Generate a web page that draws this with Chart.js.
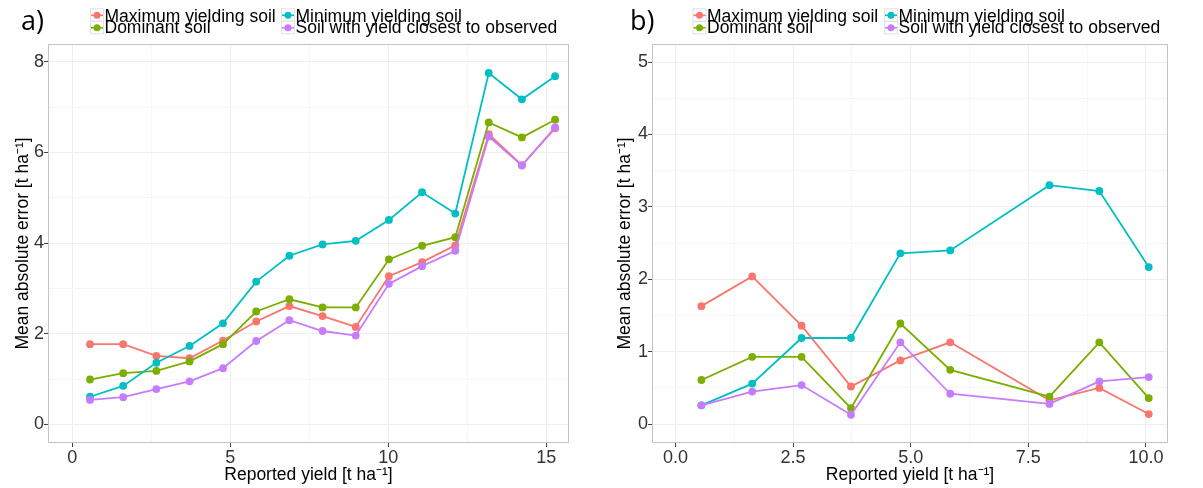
<!DOCTYPE html>
<html>
<head>
<meta charset="utf-8">
<script src="https://cdn.jsdelivr.net/npm/chart.js@4.4.1/dist/chart.umd.min.js"></script>
<style>
  body { margin: 0; background: #fff; width: 1203px; height: 488px; overflow: hidden; position: relative; }
  canvas { position: absolute; top: 0; }
  #chartA { left: 0; }
  #chartB { left: 600px; }
</style>
</head>
<body>
<canvas id="chartA" width="600" height="488"></canvas>
<canvas id="chartB" width="603" height="488"></canvas>
<script>
// series names, in legend order (column by column)
var seriesNames = ["Maximum yielding soil", "Dominant soil", "Minimum yielding soil", "Soil with yield closest to observed"];
var colours = ["#F8766D", "#7CAE00", "#00BFC4", "#C77CFF"];

// panel a) reported yield (x) and mean absolute error per soil choice
var yieldA = [0.56, 1.61, 2.66, 3.71, 4.77, 5.82, 6.87, 7.92, 8.97, 10.02, 11.07, 12.12, 13.18, 14.23, 15.28];
var maxSoilA = [1.77, 1.77, 1.51, 1.46, 1.85, 2.27, 2.61, 2.39, 2.15, 3.27, 3.58, 3.95, 6.40, 5.72, 6.53];
var domSoilA = [0.99, 1.13, 1.18, 1.39, 1.77, 2.49, 2.76, 2.58, 2.58, 3.64, 3.94, 4.13, 6.66, 6.33, 6.72];
var minSoilA = [0.61, 0.85, 1.36, 1.73, 2.23, 3.15, 3.72, 3.97, 4.05, 4.51, 5.12, 4.65, 7.75, 7.17, 7.68];
var closeSoilA = [0.54, 0.60, 0.78, 0.95, 1.24, 1.84, 2.30, 2.06, 1.96, 3.10, 3.49, 3.83, 6.35, 5.71, 6.55];

// panel b)
var yieldB = [0.55, 1.63, 2.68, 3.73, 4.78, 5.84, 7.95, 9.01, 10.06];
var maxSoilB = [1.63, 2.04, 1.36, 0.52, 0.88, 1.13, 0.33, 0.50, 0.14];
var domSoilB = [0.61, 0.93, 0.93, 0.22, 1.39, 0.75, 0.38, 1.13, 0.36];
var minSoilB = [0.26, 0.56, 1.19, 1.19, 2.36, 2.40, 3.30, 3.22, 2.17];
var closeSoilB = [0.26, 0.45, 0.54, 0.13, 1.13, 0.42, 0.28, 0.59, 0.65];

// grid lines (major + minor) and the labelled ones
var xTicksA = [0, 2.5, 5, 7.5, 10, 12.5, 15];
var xLabelsA = [0, 5, 10, 15];
var yTicksA = [0, 1, 2, 3, 4, 5, 6, 7, 8];
var yLabelsA = [0, 2, 4, 6, 8];
var xTicksB = [0, 1.25, 2.5, 3.75, 5, 6.25, 7.5, 8.75, 10];
var xLabelsB = [0, 2.5, 5, 7.5, 10];
var yTicksB = [0, 0.5, 1, 1.5, 2, 2.5, 3, 3.5, 4, 4.5, 5];
var yLabelsB = [0, 1, 2, 3, 4, 5];

Chart.defaults.font.family = "'Liberation Sans', Arial, sans-serif";
Chart.defaults.color = "#333";

function points(xs, ys) {
  return ys.map((y, i) => ({ x: xs[i], y: y }));
}

// panel border, "a)"/"b)" tag and the two-column legend
const panelDecor = {
  id: "panelDecor",
  afterDraw(chart, args, o) {
    const ctx = chart.ctx;
    const a = chart.chartArea;
    ctx.save();
    ctx.strokeStyle = "#c4c4c4";
    ctx.lineWidth = 1;
    ctx.strokeRect(a.left + 0.5, a.top + 0.5, a.right - a.left - 1, a.bottom - a.top - 1);

    ctx.fillStyle = "#000";
    ctx.textBaseline = "alphabetic";
    ctx.font = "27px 'Open Sans', sans-serif";
    ctx.fillText(o.tag, o.tagX, 30);

    ctx.font = "17.5px 'Liberation Sans', Arial, sans-serif";
    seriesNames.forEach((name, i) => {
      const col = Math.floor(i / 2), row = i % 2;
      const kx = o.keyX[col];
      const ky = row === 0 ? 15.3 : 27.8;
      ctx.strokeStyle = "#e2e2e2";
      ctx.lineWidth = 1;
      ctx.strokeRect(kx - 6.5, ky - 6.5, 13, 12.5);
      ctx.strokeStyle = colours[i];
      ctx.lineWidth = 1.6;
      ctx.beginPath();
      ctx.moveTo(kx - 6, ky);
      ctx.lineTo(kx + 6, ky);
      ctx.stroke();
      ctx.fillStyle = colours[i];
      ctx.beginPath();
      ctx.arc(kx, ky, 3.5, 0, Math.PI * 2);
      ctx.fill();
      ctx.fillStyle = "#000";
      ctx.fillText(name, kx + 7.5, row === 0 ? 21.5 : 33.2);
    });
    ctx.restore();
  }
};

function makePanel(id, cfg) {
  const sets = [cfg.max, cfg.dom, cfg.min, cfg.close].map((ys, i) => ({
    label: seriesNames[i],
    data: points(cfg.xs, ys),
    borderColor: colours[i],
    backgroundColor: colours[i],
    borderWidth: 1.8,
    pointRadius: 3.9,
    pointBorderWidth: 0,
    pointBackgroundColor: colours[i],
    tension: 0,
    order: 4 - i
  }));

  function gridOpts(labels) {
    return {
      color: (c) => labels.includes(c.tick.value) ? "#eeeeee" : "#f6f6f6",
      tickColor: (c) => labels.includes(c.tick.value) ? "#444" : "rgba(0,0,0,0)",
      tickLength: 4,
      drawTicks: true,
      lineWidth: 1
    };
  }

  new Chart(document.getElementById(id), {
    type: "line",
    data: { datasets: sets },
    options: {
      responsive: false,
      animation: false,
      devicePixelRatio: 1,
      layout: { padding: { top: 44, right: cfg.padRight, left: 0, bottom: 0 } },
      plugins: {
        legend: { display: false },
        tooltip: { enabled: false },
        panelDecor: { tag: cfg.tag, tagX: cfg.tagX, keyX: cfg.keyX }
      },
      scales: {
        x: {
          type: "linear",
          min: cfg.xMin,
          max: cfg.xMax,
          afterBuildTicks: (s) => { s.ticks = cfg.xTicks.map((v) => ({ value: v })); },
          afterFit: (s) => { s.height = 45; },
          grid: gridOpts(cfg.xLabels),
          border: { display: false },
          ticks: {
            autoSkip: false,
            maxRotation: 0,
            padding: 0,
            color: "#333",
            font: { size: 18 },
            callback: (v) => cfg.xLabels.includes(v) ? cfg.fmt(v) : ""
          },
          title: {
            display: true,
            text: "Reported yield [t ha\u207B\u00B9]",
            color: "#000",
            font: { size: 17.5 },
            padding: { top: 0, bottom: 2 }
          }
        },
        y: {
          min: cfg.yMin,
          max: cfg.yMax,
          afterBuildTicks: (s) => { s.ticks = cfg.yTicks.map((v) => ({ value: v })); },
          afterFit: (s) => { s.width = cfg.yWidth; },
          grid: gridOpts(cfg.yLabels),
          border: { display: false },
          ticks: {
            autoSkip: false,
            padding: 0,
            color: "#333",
            font: { size: 18 },
            callback: (v) => cfg.yLabels.includes(v) ? String(v) : ""
          },
          title: {
            display: true,
            text: "Mean absolute error [t ha\u207B\u00B9]",
            color: "#000",
            font: { size: 17.5 },
            padding: { top: cfg.yTitlePad, bottom: 0 }
          }
        }
      }
    },
    plugins: [panelDecor]
  });
}

makePanel("chartA", {
  xs: yieldA, max: maxSoilA, dom: domSoilA, min: minSoilA, close: closeSoilA,
  xMin: -0.77, xMax: 15.72, yMin: -0.41, yMax: 8.39,
  xTicks: xTicksA, xLabels: xLabelsA, yTicks: yTicksA, yLabels: yLabelsA,
  fmt: (v) => String(v),
  yWidth: 48, padRight: 31, yTitlePad: 13,
  tag: "a)", tagX: 21, keyX: [97, 288]
});

makePanel("chartB", {
  xs: yieldB, max: maxSoilB, dom: domSoilB, min: minSoilB, close: closeSoilB,
  xMin: -0.5, xMax: 10.47, yMin: -0.26, yMax: 5.25,
  xTicks: xTicksB, xLabels: xLabelsB, yTicks: yTicksB, yLabels: yLabelsB,
  fmt: (v) => v.toFixed(1),
  yWidth: 52, padRight: 35, yTitlePad: 15,
  tag: "b)", tagX: 30, keyX: [99.5, 291]
});
</script>
</body>
</html>
